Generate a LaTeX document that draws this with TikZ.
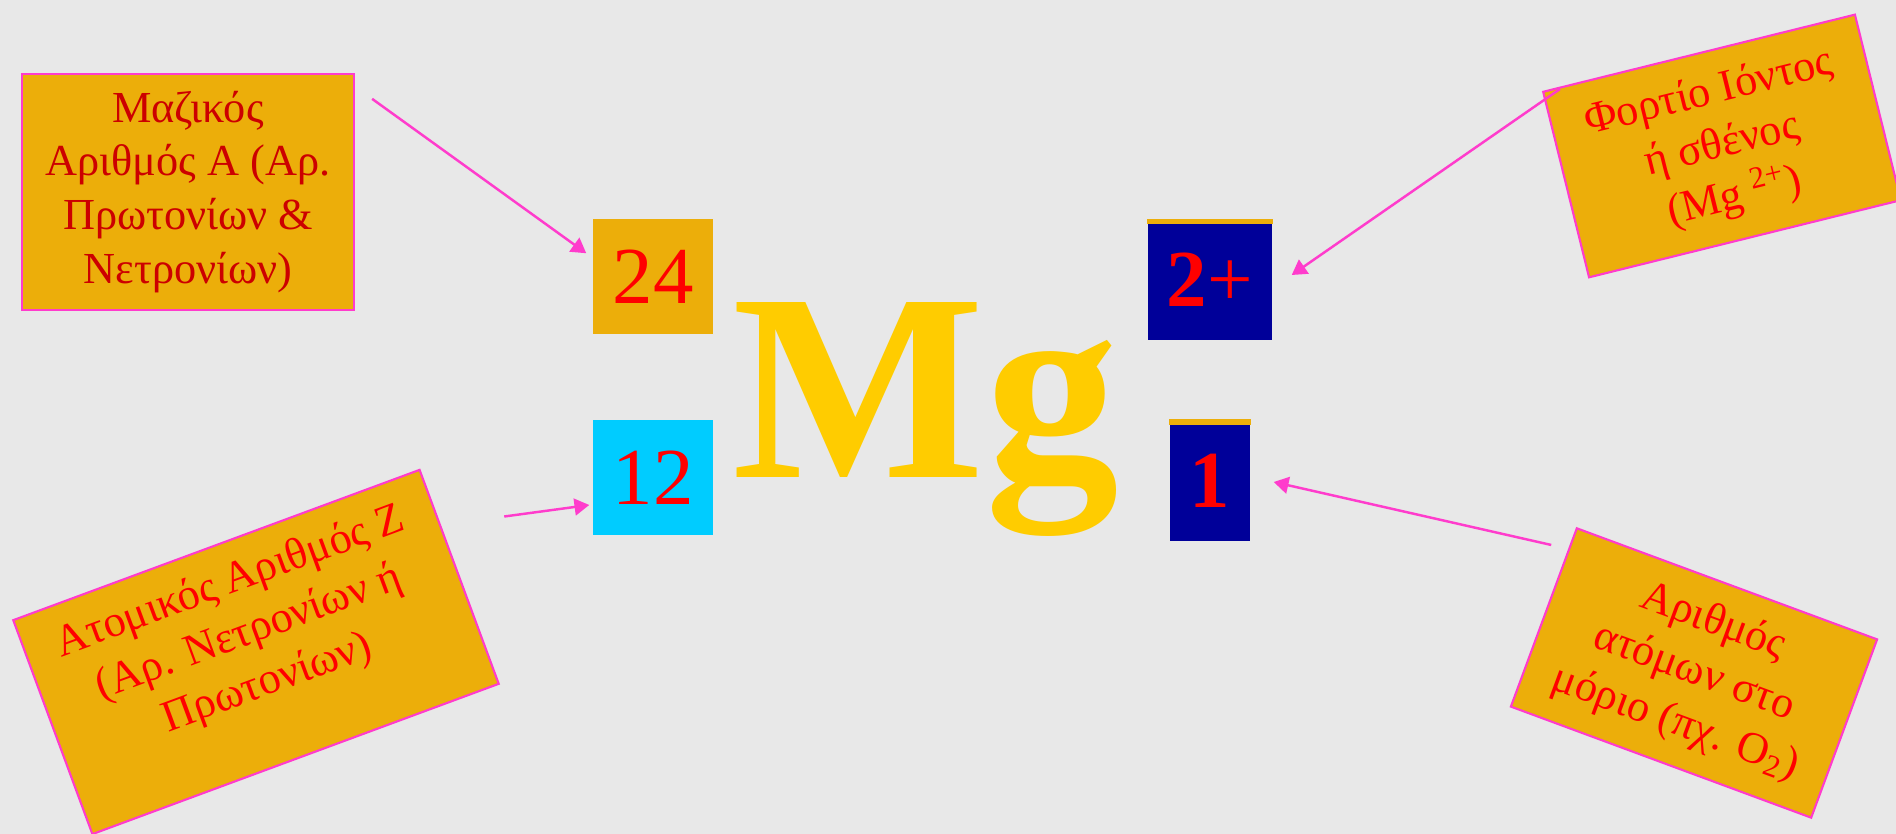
\documentclass[tikz,border=0pt]{standalone}
\usepackage{fontspec}
\setmainfont{Liberation Serif}
\usetikzlibrary{arrows.meta}
\definecolor{bggrey}{RGB}{232,232,232}
\definecolor{amber}{RGB}{236,174,10}
\definecolor{pinkline}{RGB}{255,60,204}
\definecolor{navybox}{RGB}{0,0,153}
\definecolor{skybox}{RGB}{0,204,255}
\definecolor{symbgold}{RGB}{255,204,0}
\definecolor{darkred}{RGB}{204,0,0}

\begin{document}
\begin{tikzpicture}[x=0.01cm,y=-0.01cm,every node/.style={inner sep=0pt},
  note/.style={draw=pinkline,line width=0.6pt,fill=amber,text=red,align=center,font=\fontsize{12.6}{15.3}\selectfont},
  numbox/.style={minimum width=1.2cm,minimum height=1.15cm,text=red,font=\fontsize{23}{23}\selectfont},
  ptr/.style={pinkline,line width=0.7pt,-{Triangle[length=4.2pt,width=4.8pt]}}]
\path[use as bounding box,fill=bggrey](0,0) rectangle (1896,834);
% callouts
\node[note,text=darkred,minimum width=3.32cm,minimum height=2.36cm] (mass) at (188,192) {Μαζικός\\Αριθμός Α (Αρ.\\Πρωτονίων \&\\Νετρονίων)};
\node[note,rotate=13.9,minimum width=3.21cm,minimum height=1.91cm] (chg) at (1722,146) {Φορτίο Ιόντος\\ή σθένος\\(Mg \textsuperscript{2+})};
\node[note,rotate=20.3,minimum width=4.33cm,minimum height=2.28cm,text depth=14pt] (atnum) at (256,652) {Ατομικός Αριθμός Ζ\\(Αρ. Νετρονίων ή\\Πρωτονίων)};
\node[note,rotate=-20.3,minimum width=3.2cm,minimum height=1.9cm] (cnt) at (1694,673) {Αριθμός\\ατόμων στο\\μόριο (πχ. O\textsubscript{2})};
% symbol
\node[numbox,fill=amber] (A) at (653,276.5) {24};
\node[numbox,fill=skybox] (Z) at (653,477.5) {12};
\node[text=symbgold,anchor=base west,font=\fontsize{76}{76}\selectfont\bfseries] (mg) at (732,478) {Mg};
\node[numbox,fill=navybox,minimum width=1.24cm,minimum height=1.2cm] (ion) at (1210,280) {\textbf{2}+};
\node[numbox,fill=navybox,minimum width=0.8cm,minimum height=1.21cm] (qty) at (1210,480.5) {\textbf{1}};
\fill[amber] (ion.north west) rectangle ([yshift=-0.05cm]ion.north east);
\fill[amber] (qty.north west) rectangle ([yshift=-0.06cm]qty.north east);
% pointers
\draw[ptr] ([shift={(17,26)}]mass.north east) -- ([shift={(-6,35)}]A.north west);
\draw[ptr] ([shift={(84,48)}]atnum.north east) -- ([shift={(-3,27.5)}]Z.west);
\draw[ptr] ([shift={(18,-2)}]chg.north west) -- ([shift={(19,-5)}]ion.east);
\draw[ptr] ([shift={(-25,18)}]cnt.north west) -- ([shift={(23,1.5)}]qty.east);
\end{tikzpicture}
\end{document}
